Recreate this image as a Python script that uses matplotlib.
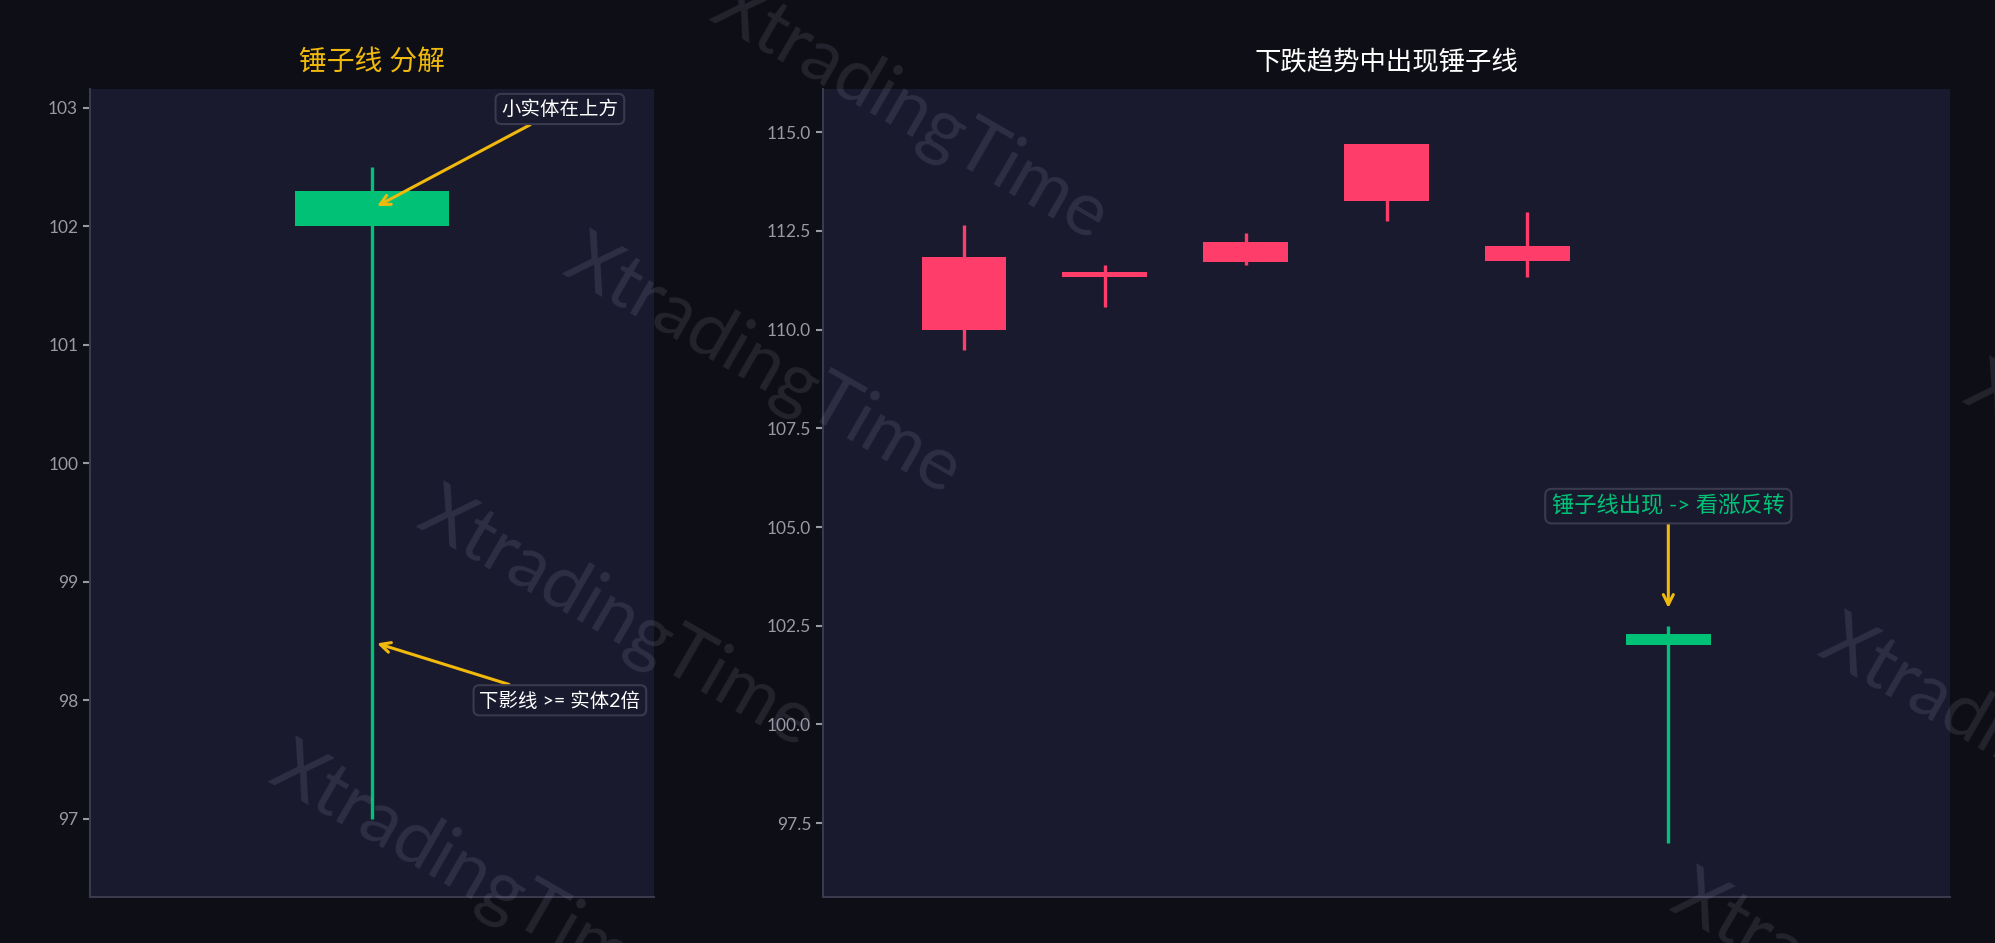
import numpy as np
import matplotlib
matplotlib.use("Agg")
import matplotlib.pyplot as plt
from matplotlib.ticker import MultipleLocator

plt.rcParams["font.family"] = ["Lato", "Noto Sans CJK SC", "DejaVu Sans"]

# hammer anatomy (left panel)
hammer_open = 102.0
hammer_close = 102.3
hammer_high = 102.5
hammer_low = 97.0

# downtrend ending with a hammer (right panel)
trend_open = [111.83, 111.45, 112.21, 114.69, 112.11, 102.0]
trend_close = [110.0, 111.33, 111.71, 113.25, 111.74, 102.3]
trend_high = [112.64, 111.65, 112.46, 114.69, 112.97, 102.5]
trend_low = [109.48, 110.58, 111.64, 112.74, 111.33, 97.0]

left_title = "锤子线 分解"
right_title = "下跌趋势中出现锤子线"
note_body = "小实体在上方"
note_shadow = "下影线 >= 实体2倍"
note_signal = "锤子线出现 -> 看涨反转"
watermark = "XtradingTime"

# colours
FIG_BG = "#0e0e16"
AX_BG = "#1a1a2e"
SPINE = "#3a3a4e"
TICK = "#9a9aa6"
UP = "#00c176"
DOWN = "#ff3d6b"
GOLD = "#f0b90b"


def style_axes(ax):
    ax.set_facecolor(AX_BG)
    for side in ("top", "right"):
        ax.spines[side].set_visible(False)
    for side in ("left", "bottom"):
        ax.spines[side].set_color(SPINE)
        ax.spines[side].set_linewidth(1.5)
    ax.set_xticks([])
    ax.tick_params(axis="y", colors=TICK, labelsize=12.5, length=5, width=1.5)


def draw_candles(ax, xs, opens, closes, highs, lows, width):
    opens = np.asarray(opens)
    closes = np.asarray(closes)
    colors = [UP if c >= o else DOWN for o, c in zip(opens, closes)]
    ax.vlines(xs, lows, highs, colors=colors, linewidth=2.4, zorder=2)
    ax.bar(xs, closes - opens, bottom=opens, width=width, color=colors,
           zorder=3, linewidth=0)


fig = plt.figure(figsize=(19.95, 9.43), dpi=100, facecolor=FIG_BG)
ax1 = fig.add_axes([0.0451, 0.0488, 0.2827, 0.857])
ax2 = fig.add_axes([0.4125, 0.0488, 0.5650, 0.857])

box = dict(boxstyle="round,pad=0.3", facecolor=AX_BG, edgecolor=SPINE, linewidth=1.5)
arrow = dict(arrowstyle="->", color=GOLD, lw=2.2, shrinkA=0, shrinkB=0,
             mutation_scale=18)

# left: anatomy of one hammer
style_axes(ax1)
draw_candles(ax1, [0], [hammer_open], [hammer_close], [hammer_high], [hammer_low], 0.6)
ax1.set_xlim(-1.1, 1.1)
ax1.set_ylim(96.34, 103.16)
ax1.yaxis.set_major_locator(MultipleLocator(1))
ax1.set_title(left_title, color=GOLD, fontsize=20, pad=14)
ax1.annotate(note_body, xy=(0.02, 102.17), xytext=(0.733, 102.99),
             color="white", fontsize=14, ha="center", va="center",
             bbox=box, arrowprops=arrow, zorder=5)
ax1.annotate(note_shadow, xy=(0.02, 98.48), xytext=(0.733, 98.0),
             color="white", fontsize=14, ha="center", va="center",
             bbox=box, arrowprops=arrow, zorder=5)

# right: downtrend then hammer
style_axes(ax2)
xs = np.arange(len(trend_open))
draw_candles(ax2, xs, trend_open, trend_close, trend_high, trend_low, 0.6)
ax2.set_xlim(-1, 7)
ax2.set_ylim(95.63, 116.1)
ax2.yaxis.set_major_locator(MultipleLocator(2.5))
ax2.set_title(right_title, color="white", fontsize=19, pad=14)
ax2.annotate(note_signal, xy=(xs[-1], 102.95), xytext=(xs[-1], 105.53),
             color=UP, fontsize=16, ha="center", va="center",
             bbox=box, arrowprops=arrow, zorder=5)

# watermark grid
wm_x = [0.456, 0.382, 0.309, 0.235, 1.084, 1.011, 0.937]
wm_y = [0.881, 0.612, 0.343, 0.073, 0.476, 0.207, -0.063]
for x, y in zip(wm_x, wm_y):
    fig.text(x, y, watermark, fontsize=54, color="#a0a0c0", alpha=0.15,
             rotation=-30, ha="center", va="center", rotation_mode="anchor",
             zorder=10)

fig.savefig("out.png", dpi=100, facecolor=FIG_BG)
